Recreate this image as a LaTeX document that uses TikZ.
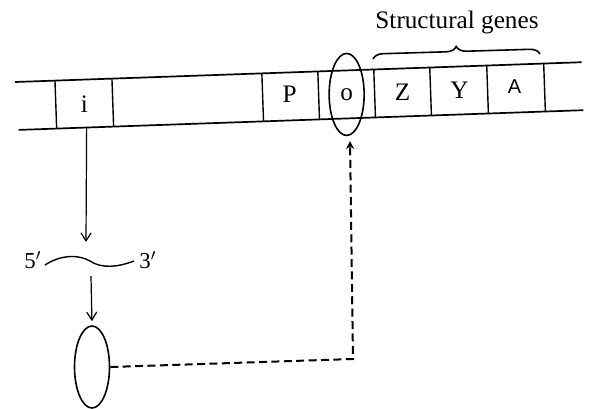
\documentclass[tikz,border=0pt]{standalone}
\usepackage{fontspec}
\setmainfont{Liberation Serif}
\newfontfamily\sansA{Liberation Sans}
\usetikzlibrary{arrows.meta,decorations.pathreplacing,shapes.geometric}
\begin{document}
\begin{tikzpicture}[x=0.5pt,y=-0.5pt,
  strand/.style={line width=0.85pt},
  divider/.style={line width=0.7pt},
  genelabel/.style={font=\fontsize{12.6}{14}\selectfont, inner sep=0pt},
  endlabel/.style={font=\fontsize{11.4}{13}\selectfont, inner sep=0pt},
  flow/.style={line width=0.6pt, -{Straight Barb[length=4pt,width=5pt]}},
  repress/.style={line width=1pt, dash pattern=on 4pt off 2.2pt, -{Stealth[length=4pt,width=4pt]}},
  oval/.style={ellipse, draw, line width=0.8pt, inner sep=0pt}]
\useasboundingbox (0,0) rectangle (592,408);
% DNA strip (slightly tilted)
\begin{scope}[shift={(15,82)}, rotate=2]
  \draw[strand] (0,0) -- (567,0);
  \draw[strand] (2,48) -- (567,48);
  \foreach \x in {40,97,247,303,359,415,472,529} \draw[divider] (\x,0) -- (\x,48);
  \node[genelabel] (gi) at (68.5,25) {i};
  \node[genelabel] (gp) at (274,22) {P};
  \node[oval, genelabel, minimum width=17.5pt, minimum height=41pt] (go) at (331,24) {o};
  \node[genelabel] (gz) at (387,24) {Z};
  \node[genelabel] (gy) at (444,24) {Y};
  \node[font=\sansA\fontsize{10}{12}\selectfont, inner sep=0pt] (ga) at (499,22) {A};
  \coordinate (ib) at (70,48);
\end{scope}
% structural genes brace
\coordinate (bl) at (373,59);
\coordinate (br) at (540,54);
\draw[line width=0.8pt, decorate, decoration={brace, amplitude=5pt}] (bl) -- (br);
\node[font=\fontsize{12.6}{15}\selectfont, inner sep=0pt] (sg) at (457,22) {Structural genes};
% mRNA
\coordinate (mtop) at (86,242);
\draw[flow] (ib) -- (mtop);
\node[endlabel] (five) at (33,260) {5$'$};
\node[endlabel] (three) at (148,260) {3$'$};
\coordinate (w1) at (45,265);
\coordinate (wm) at (90,261);
\coordinate (w2) at (134,261);
\draw[line width=0.7pt] (w1) .. controls (60,255) and (78,254) .. (wm) .. controls (102,269) and (118,267) .. (w2);
% repressor
\coordinate (mbot) at (91,276);
\node[oval, minimum width=17.5pt, minimum height=41pt] (rep) at (92,367) {};
\draw[flow, shorten >=2pt] (mbot) -- (rep.north);
% repressor binds operator
\coordinate (corner) at (353,359);
\coordinate (optip) at (350,141);
\draw[repress] (rep.east) -- (corner) -- (optip);
\end{tikzpicture}
\end{document}
